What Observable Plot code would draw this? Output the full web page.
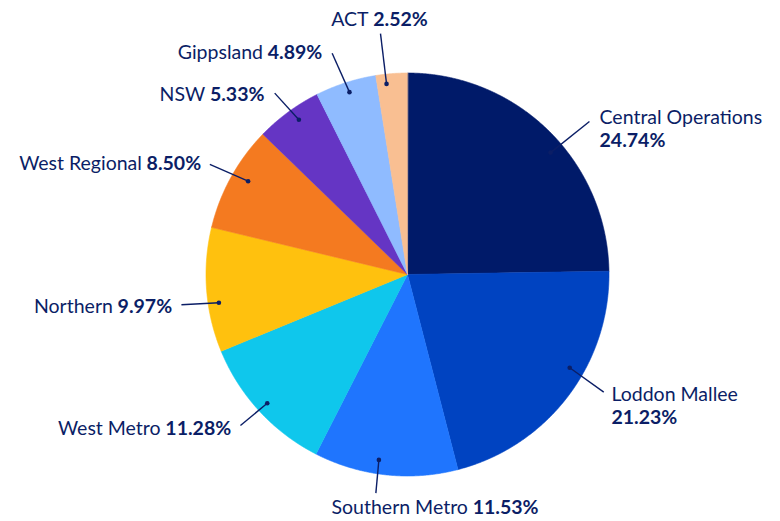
<!DOCTYPE html>
<html><head><meta charset="utf-8">
<script src="https://cdn.jsdelivr.net/npm/d3@7"></script>
<script src="https://cdn.jsdelivr.net/npm/@observablehq/plot@0.6"></script>
<style>body{margin:0;background:#fff}#chart{width:780px;height:521px}</style>
</head><body><div id="chart"></div>
<script>
const regions = ["Central Operations","Loddon Mallee","Southern Metro","West Metro","Northern","West Regional","NSW","Gippsland","ACT"];
const shares = [24.74,21.23,11.53,11.28,9.97,8.50,5.33,4.89,2.52];
const pctLabels = ["24.74%","21.23%","11.53%","11.28%","9.97%","8.50%","5.33%","4.89%","2.52%"];
const colors = ["#001a69","#0043c1","#1f75fe","#0fc7ec","#ffc10e","#f47a20","#6535c4","#8fbbff","#f9bf92"];

// label layout, in pie-radius units relative to the pie centre
const dotPos = [[0.710,0.605],[0.805,-0.463],[-0.142,-0.920],[-0.696,-0.639],[-0.936,-0.140],[-0.791,0.463],[-0.539,0.768],[-0.288,0.905],[-0.104,0.946]];
const endPos = [[0.903,0.759],[0.974,-0.584],[-0.157,-1.085],[-0.829,-0.749],[-1.122,-0.150],[-0.981,0.546],[-0.659,0.900],[-0.374,1.098],[-0.134,1.195]];
const labelPos = [[0.953,0.777],[1.012,-0.598],[-0.377,-1.156],[-0.875,-0.764],[-1.168,-0.158],[-1.024,0.551],[-0.710,0.893],[-0.423,1.102],[-0.139,1.264]];
const labelAnchor = ["start","start","start","end","end","end","end","end","middle"];
const twoLine = [true,true,false,false,false,false,false,false,false];

const ink = "#0b1e66";
const svgNS = "http://www.w3.org/2000/svg";

const rows = regions.map((name, i) => ({
  name, share: shares[i], pct: pctLabels[i],
  dot: dotPos[i], end: endPos[i], lab: labelPos[i],
  anchor: labelAnchor[i], two: twoLine[i]
}));
const byName = new Map(rows.map(d => [d.name, d]));

const slices = d3.pie().sort(null).value(d => d.share)(rows);
const pts = slices.flatMap(s => {
  const n = Math.max(2, Math.ceil((s.endAngle - s.startAngle) / 0.004));
  const angles = d3.range(n + 1).map(k => s.startAngle + (s.endAngle - s.startAngle) * k / n);
  return [{name: s.data.name, u: 0, v: 0}, ...angles.map(a => ({name: s.data.name, u: Math.sin(a), v: Math.cos(a)}))];
});

const R = 201.5;
const plot = Plot.plot({
  width: 780, height: 521, margin: 0,
  x: {domain: [-407 / R, 373 / R], axis: null},
  y: {domain: [-247 / R, 274 / R], axis: null},
  color: {domain: regions, range: colors},
  style: {fontFamily: "Lato, sans-serif", background: "white", overflow: "visible"},
  marks: [
    Plot.line(pts, {x: "u", y: "v", z: "name", fill: "name", stroke: "name", strokeWidth: 0.6, curve: "linear-closed"}),
    Plot.link(rows, {x1: d => d.dot[0], y1: d => d.dot[1], x2: d => d.end[0], y2: d => d.end[1], stroke: ink, strokeWidth: 1.4}),
    Plot.dot(rows, {x: d => d.dot[0], y: d => d.dot[1], r: 2.3, fill: ink, stroke: null}),
    ...["start", "end", "middle"].map(a => Plot.text(rows.filter(d => d.anchor === a), {
      x: d => d.lab[0], y: d => d.lab[1], text: "name",
      textAnchor: a, lineAnchor: "middle", fontSize: 19.5, fill: ink
    }))
  ]
});

for (const t of plot.querySelectorAll("text")) {
  const row = byName.get(t.textContent);
  if (!row) continue;
  t.textContent = "";
  const a = document.createElementNS(svgNS, "tspan");
  a.textContent = row.name;
  t.appendChild(a);
  const b = document.createElementNS(svgNS, "tspan");
  b.setAttribute("font-weight", "700");
  if (row.two) {
    b.setAttribute("x", t.getAttribute("x") ?? "0");
    b.setAttribute("dy", "1.16em");
    b.textContent = row.pct;
  } else {
    b.textContent = "\u00a0" + row.pct;
  }
  t.appendChild(b);
}

document.getElementById("chart").appendChild(plot);
</script>
</body></html>
